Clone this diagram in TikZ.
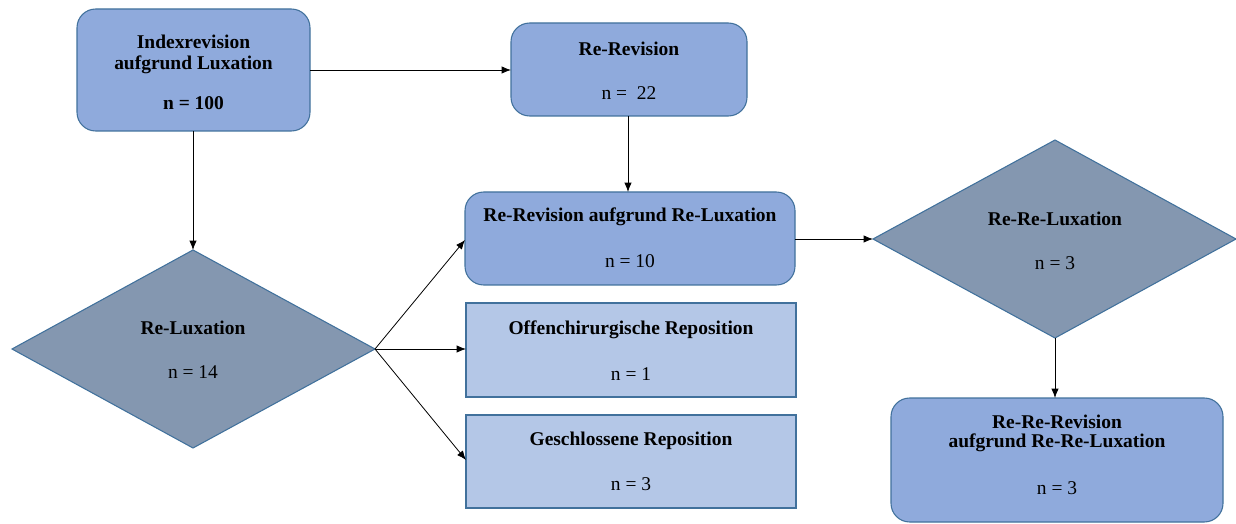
\documentclass[tikz,border=0pt]{standalone}
\usepackage{fontspec}
\setmainfont{Liberation Serif}
\usetikzlibrary{arrows.meta,shapes.geometric}
\definecolor{boxfill}{HTML}{8FAADC}
\definecolor{lightfill}{HTML}{B4C7E7}
\definecolor{diafill}{HTML}{8497B0}
\definecolor{edge}{HTML}{41719C}
\tikzset{
  rbox/.style={draw=edge, line width=0.8pt, fill=boxfill, rounded corners=14pt},
  pbox/.style={draw=edge, line width=0.8pt, fill=lightfill},
  dia/.style={draw=edge, line width=0.8pt, fill=diafill},
  lbl/.style={font=\fontsize{14.6}{17}\selectfont, align=center, inner sep=0pt},
  conn/.style={-{Latex[length=7pt,width=5.5pt]}, line width=0.6pt, black}
}
\begin{document}
\begin{tikzpicture}[x=0.75pt,y=-0.75pt]
\useasboundingbox (0,0) rectangle (1236,524);
% boxes
\draw[rbox] (77,9) rectangle (310,131);
\coordinate (Ar) at (310,70);
\coordinate (Ab) at (193,131);
\node[lbl] (At1) at (193.5,42) {\textbf{Indexrevision}};
\node[lbl] (At2) at (193.5,65) {\textbf{aufgrund Luxation}};
\node[lbl] (At3) at (193.5,103) {\textbf{n = 100}};

\draw[rbox] (511,23) rectangle (747,116);
\coordinate (Bl) at (511,70);
\coordinate (Bb) at (628,116);
\node[lbl] (Bt1) at (629,49) {\textbf{Re-Revision}};
\node[lbl] (Bt2) at (629,93) {n =\ \ 22};

\draw[rbox] (465,192) rectangle (795,285);
\coordinate (Ct) at (628,192);
\coordinate (Cl) at (465,240);
\coordinate (Cr) at (795,239);
\node[lbl] (Ct1) at (630,217) {\textbf{Re-Revision aufgrund Re-Luxation}};
\node[lbl] (Ct2) at (630,261) {n = 10};

\draw[pbox] (466,303) rectangle (796,397);
\coordinate (Dl) at (466,349);
\node[lbl] (Dt1) at (631,330) {\textbf{Offenchirurgische Reposition}};
\node[lbl] (Dt2) at (631,374) {n = 1};

\draw[pbox] (466,415) rectangle (796,508);
\coordinate (El) at (466,460);
\node[lbl] (Et1) at (631,441) {\textbf{Geschlossene Reposition}};
\node[lbl] (Et2) at (631,484) {n = 3};

% diamonds
\draw[dia] (12,349) -- (193,250) -- (375,349) -- (193,448) -- cycle;
\coordinate (Ft) at (193,250);
\coordinate (Fr) at (375,349);
\node[lbl] (Ft1) at (193,328) {\textbf{Re-Luxation}};
\node[lbl] (Ft2) at (193,372) {n = 14};

\draw[dia] (873,239) -- (1055,140) -- (1236,239) -- (1055,338) -- cycle;
\coordinate (Gl) at (873,239);
\coordinate (Gb) at (1055,338);
\node[lbl] (Gt1) at (1055,219) {\textbf{Re-Re-Luxation}};
\node[lbl] (Gt2) at (1055,263) {n = 3};

\draw[rbox] (891,398) rectangle (1223,522);
\coordinate (Ht) at (1055,398);
\node[lbl] (Ht1) at (1057,422) {\textbf{Re-Re-Revision}};
\node[lbl] (Ht2) at (1057,443) {\textbf{aufgrund Re-Re-Luxation}};
\node[lbl] (Ht3) at (1057,488) {n = 3};

% connectors
\draw[conn] (Ar) -- (Bl);
\draw[conn] (Ab) -- (Ft);
\draw[conn] (Bb) -- (Ct);
\draw[conn] (Fr) -- (Cl);
\draw[conn] (Fr) -- (Dl);
\draw[conn] (Fr) -- (El);
\draw[conn] (Cr) -- (Gl);
\draw[conn] (Gb) -- (Ht);
\end{tikzpicture}
\end{document}
